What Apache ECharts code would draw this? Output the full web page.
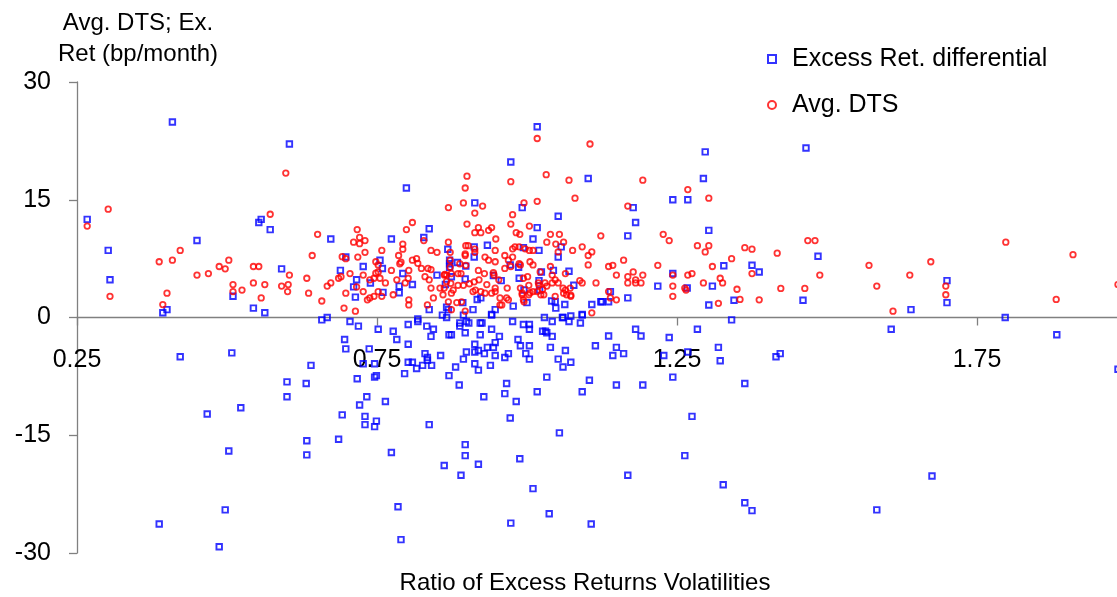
<!DOCTYPE html>
<html><head><meta charset="utf-8">
<script src="https://cdn.jsdelivr.net/npm/echarts@6/dist/echarts.min.js"></script>
<style>html,body{margin:0;padding:0;background:#fff}#c{width:1117px;height:597px}</style>
</head><body><div id="c"></div>
<script>
const xTicks = [0.25, 0.75, 1.25, 1.75];
const yTicks = [-30, -15, 0, 15, 30];
const seriesNames = ['Excess Ret. differential', 'Avg. DTS'];
const axisTitles = ['Ratio of Excess Returns Volatilities', 'Avg. DTS; Ex.\nRet (bp/month)'];

const excessRet = [
[0.267,12.5],[0.409,24.9],[0.604,22.1],[0.302,8.55],[0.305,4.8],[0.393,0.6],[0.4,1.0],[0.45,9.8],[0.51,2.7],[0.544,1.2],[0.563,0.6],[0.553,12.1],[0.557,12.5],[0.572,11.2],[0.591,6.2],[0.673,10.0],[0.698,7.7],[0.689,6.0],[0.716,4.8],[0.711,3.9],[0.714,2.6],[0.658,-0.3],[0.667,0.0],[0.705,-0.5],[0.719,-1.1],
[0.422,-5.0],[0.467,-12.3],[0.508,-4.5],[0.523,-11.5],[0.503,-17.0],[0.497,-24.5],[0.487,-29.2],[0.387,-26.3],[0.6,-8.2],[0.6,-10.1],[0.632,-8.4],[0.64,-6.1],[0.633,-15.7],[0.633,-17.5],
[0.799,16.5],[0.774,10.0],[0.837,11.3],[0.828,10.2],[0.727,6.5],[0.755,7.3],[0.759,6.25],[0.739,4.4],[0.76,3.2],[0.793,5.6],[0.787,4.0],[0.787,3.15],[0.809,4.2],[0.85,5.4],[0.837,1.0],[0.864,4.2],[0.868,8.7],[0.818,-0.2],[0.859,0.3],[0.866,0.0],[0.869,1.0],
[1.017,24.3],[0.973,19.8],[1.102,17.7],[0.913,14.6],[0.992,14.0],[1.052,12.9],[1.017,11.45],[1.01,10.0],[0.934,9.2],[0.912,9.0],[0.912,7.7],[0.994,8.9],[1.02,8.55],[1.057,9.0],[1.052,7.7],[0.871,7.3],[0.871,6.85],[0.871,6.4],[0.884,7.0],[0.898,6.55],[0.874,5.2],[0.897,4.9],[0.944,5.35],[0.972,6.7],[0.986,6.4],[0.987,5.0],[1.024,5.8],[1.02,4.7],[1.044,6.0],[1.07,5.9],[0.957,4.7],[0.995,3.5],[1.021,3.5],[1.078,4.1],[0.917,2.3],[0.923,2.5],[0.893,1.9],[0.91,1.0],[0.947,1.0],[0.941,0.4],[0.977,1.45],[1.0,1.9],[1.041,2.1],[1.047,2.0],[1.048,1.2],[1.063,1.65],[1.108,1.65],[1.123,2.0],[1.092,0.4],[1.073,0.2],[1.029,0.0],[1.059,0.0],[0.866,1.3],
[1.297,21.1],[1.294,17.7],[1.243,15.0],[1.268,15.0],[1.177,14.0],[1.181,12.1],[1.168,10.4],[1.303,11.1],[1.375,6.65],[1.387,5.8],[1.243,5.6],[1.218,4.0],[1.267,3.75],[1.309,4.0],[1.139,3.3],[1.136,2.0],[1.125,2.0],[1.168,2.5],[1.303,1.6],[1.341,-0.3],
[1.415,-5.0],[1.422,-4.6],[1.465,21.6],[1.46,2.2],[1.485,7.8],[1.363,-8.4],[1.327,-21.3],[1.363,-23.6],[1.375,-24.6],[1.607,-1.5],[1.64,1.0],[1.7,4.7],[1.7,1.9],[1.583,-24.5],[1.675,-20.2],[1.797,0.0],[1.883,-2.2],[1.985,-6.6],[1.345,2.2],[1.328,6.6],
[0.752,-1.5],[0.777,-1.75],[0.802,-0.9],[0.818,-0.5],[0.833,-1.1],[0.844,-1.5],[0.84,-2.4],[0.87,-2.2],[0.696,-2.8],[0.783,-2.8],[0.802,-3.4],[0.698,-4.0],[0.737,-4.0],[0.727,-5.9],[0.746,-5.9],[0.83,-4.6],[0.834,-5.1],[0.834,-5.45],[0.856,-4.85],[0.802,-5.7],[0.809,-5.7],[0.816,-6.5],[0.826,-6.1],[0.841,-6.1],[0.796,-7.15],[0.87,-7.4],[0.717,-7.8],[0.746,-7.6],[0.749,-7.4],[0.733,-10.1],[0.721,-11.15],[0.764,-10.7],[0.692,-12.4],[0.73,-12.6],[0.73,-13.65],[0.746,-13.9],[0.749,-13.2],[0.837,-13.65],[0.686,-15.5],[0.774,-17.2],[0.862,-18.85],[0.785,-24.1],[0.79,-28.3],
[0.894,0.3],[0.941,0.3],[0.888,-0.7],[0.888,-1.1],[0.899,-0.5],[0.903,-0.7],[0.922,-0.7],[0.925,-0.7],[0.976,-0.5],[0.994,-0.9],[1.004,-0.9],[1.004,-1.5],[1.042,-0.5],[1.06,0.0],[1.07,-0.5],[1.089,-0.7],[1.092,0.3],[0.874,-2.2],[0.897,-1.95],[0.922,-2.2],[0.941,-1.5],[0.954,-2.4],[0.985,-2.8],[0.989,-3.6],[1.004,-3.6],[1.026,-1.75],[1.031,-1.75],[1.033,-1.95],[1.042,-2.4],[0.913,-3.4],[0.947,-3.2],[0.934,-3.8],[0.944,-3.8],[0.899,-4.4],[0.913,-4.4],[0.919,-4.2],[0.929,-4.6],[0.947,-4.85],[0.963,-5.1],[0.969,-4.6],[0.998,-4.6],[1.004,-5.3],[1.039,-3.8],[1.064,-4.2],[1.052,-5.3],[1.073,-5.7],[1.06,-6.3],[1.114,-3.6],[0.894,-5.3],[0.881,-6.3],[0.913,-5.9],[0.919,-6.7],[0.939,-6.1],[0.887,-8.6],[1.033,-7.6],[1.104,-8.0],[0.966,-8.4],[0.963,-9.7],[0.928,-10.1],[0.982,-10.7],[1.017,-9.45],[1.092,-9.45],[0.972,-12.8],[1.054,-14.7],[0.897,-16.2],[0.897,-17.6],[0.919,-18.7],[0.988,-18.0],[0.89,-20.1],[1.01,-21.8],[0.973,-26.2],[1.037,-25.0],[1.107,-26.3],
[1.136,-2.35],[1.181,-1.5],[1.19,-2.35],[1.149,-3.8],[1.143,-4.85],[1.161,-4.6],[1.237,-2.55],[1.284,-1.5],[1.228,-4.85],[1.268,-4.4],[1.319,-3.8],[1.322,-5.5],[1.243,-7.6],[1.149,-8.6],[1.193,-8.6],[1.275,-12.6],[1.263,-17.6],[1.168,-20.1]
];

const avgDTS = [
[0.267,11.65],[0.302,13.8],[0.305,2.7],[0.387,7.1],[0.409,7.3],[0.422,8.55],[0.4,3.1],[0.393,1.65],[0.45,5.4],[0.469,5.6],[0.487,6.5],[0.497,6.2],[0.503,7.3],[0.51,4.2],[0.51,3.3],[0.525,3.5],[0.544,6.5],[0.553,6.5],[0.544,4.4],[0.563,4.2],[0.557,2.5],[0.572,13.15],[0.598,18.4],[0.591,4.0],[0.602,4.2],[0.601,3.3],[0.604,5.4],[0.633,5.0],[0.636,3.1],[0.642,7.9],[0.651,10.6],[0.658,2.1],[0.667,4.0],[0.673,4.4],[0.686,5.0],[0.69,5.2],[0.692,7.75],[0.698,7.5],[0.705,5.6],[0.698,3.1],[0.695,1.2],[0.714,0.8],[0.711,9.6],[0.717,11.2],[0.721,10.2],[0.718,7.7],[0.716,3.9],
[0.721,9.4],[0.73,9.8],[0.73,8.3],[0.727,5.4],[0.727,3.3],[0.734,2.25],[0.738,2.5],[0.745,2.7],[0.752,3.3],[0.758,2.7],[0.738,4.8],[0.745,5.0],[0.748,5.65],[0.752,5.8],[0.755,5.0],[0.748,7.1],[0.752,6.7],[0.758,8.55],[0.774,6.0],[0.764,4.4],[0.777,2.9],[0.783,4.8],[0.797,4.4],[0.786,7.9],[0.79,7.05],[0.788,6.85],[0.793,9.35],[0.793,8.7],[0.799,11.2],[0.809,12.1],[0.803,2.25],[0.803,1.6],[0.802,5.0],[0.803,6.0],[0.809,7.3],[0.816,7.5],[0.818,6.9],[0.824,6.25],[0.828,9.8],[0.83,5.2],[0.837,4.8],[0.835,6.25],[0.84,6.1],[0.84,8.55],[0.85,8.3],[0.834,1.6],[0.844,2.5],[0.84,3.75],[0.855,3.75],[0.862,3.75],[0.86,2.9],[0.862,5.4],[0.866,5.4],[0.869,14.0],[0.869,9.6],[0.869,2.0],
[1.017,22.8],[1.105,22.1],[0.9,18.0],[0.897,16.5],[0.973,17.3],[1.032,18.2],[1.07,17.5],[1.08,15.2],[0.894,14.6],[0.926,14.2],[0.913,13.3],[0.995,14.6],[1.017,14.8],[0.976,13.1],[0.9,11.9],[0.919,11.45],[0.913,10.8],[0.923,10.8],[0.936,11.1],[0.941,11.45],[0.973,11.9],[0.982,10.8],[0.988,10.6],[1.004,11.65],[0.948,10.0],[1.039,10.6],[1.054,10.6],[1.033,9.6],[1.048,9.35],[1.061,9.6],[1.123,10.4],[0.898,9.15],[0.902,9.15],[0.913,8.7],[0.913,8.3],[0.872,8.3],[0.947,8.55],[0.976,8.75],[0.98,9.0],[0.987,9.0],[0.997,8.75],[1.004,8.55],[1.01,8.55],[1.052,8.35],[1.076,8.55],[1.092,9.0],[1.108,8.35],[1.102,7.9],[1.102,6.7],[0.897,8.1],[0.897,7.9],[0.872,7.3],[0.872,6.4],[0.888,6.85],[0.898,6.65],[0.93,7.7],[0.936,7.3],[0.947,7.1],[0.963,7.9],[0.969,7.3],[0.976,7.7],[0.973,6.5],[0.963,6.25],[0.989,6.7],[0.987,6.85],[1.005,7.1],[1.01,6.7],[1.039,6.5],[0.863,5.5],[0.874,5.6],[0.885,5.6],[0.89,5.6],[0.919,6.0],[0.929,5.6],[0.944,5.7],[0.945,5.4],[0.953,4.8],[0.994,5.0],[1.001,5.2],[1.022,5.8],[1.042,5.4],[1.047,4.8],[1.064,5.6],[0.866,4.6],[0.873,4.35],[0.885,4.1],[0.894,4.1],[0.904,4.3],[0.912,4.55],[0.92,4.8],[0.933,4.2],[0.947,3.75],[0.877,3.5],[0.91,3.3],[0.914,3.5],[0.923,3.3],[0.93,3.1],[0.941,3.1],[0.947,3.3],[0.967,3.75],[0.989,3.75],[0.992,3.1],[1.003,4.1],[1.005,3.15],[1.019,4.4],[1.02,4.1],[1.026,3.6],[1.03,4.4],[1.033,4.0],[1.042,4.4],[1.052,4.4],[1.06,3.75],[1.064,3.5],[1.072,3.75],[1.073,2.85],[1.092,4.4],[1.088,4.7],[1.115,4.4],[0.874,3.1],[0.874,1.0],[0.883,1.9],[0.891,2.0],[0.897,0.8],[0.955,2.5],[0.966,2.5],[0.969,2.25],[0.955,1.6],[0.958,1.6],[0.992,2.9],[0.994,2.25],[0.995,2.0],[1.003,2.9],[1.01,3.3],[1.017,3.3],[1.023,2.9],[1.028,2.9],[1.047,2.7],[1.061,3.1],[1.066,2.9],[1.073,2.7],[1.108,0.6],
[1.193,17.5],[1.268,16.3],[1.303,15.2],[1.168,14.2],[1.227,10.6],[1.237,9.8],[1.284,9.15],[1.303,9.15],[1.297,8.35],[1.363,8.9],[1.375,8.7],[1.341,7.5],[1.161,7.3],[1.136,6.5],[1.143,6.65],[1.218,6.65],[1.309,6.5],[1.149,5.4],[1.168,5.2],[1.177,5.8],[1.193,5.4],[1.243,5.4],[1.268,5.4],[1.275,5.6],[1.375,5.6],[1.322,5.0],[1.168,4.4],[1.181,4.8],[1.181,4.4],[1.19,4.4],[1.294,4.4],[1.326,4.4],[1.243,4.0],[1.263,3.75],[1.265,3.5],[1.136,3.3],[1.139,2.5],[1.149,2.25],[1.243,2.7],[1.319,1.8],[1.387,2.25],
[1.468,9.8],[1.48,9.8],[1.488,5.4],[1.463,3.7],[1.417,8.2],[1.57,6.65],[1.583,4.0],[1.61,0.8],[1.638,5.4],[1.673,7.1],[1.698,4.0],[1.698,2.9],[1.798,9.6],[1.882,2.3],[1.91,8.0],[1.985,4.2],[1.35,3.6],[1.355,2.3],[1.423,3.7]
];

const FONT = 'Arial, "Liberation Sans", sans-serif';
const chart = echarts.init(document.getElementById('c'), null, {renderer: 'canvas'});
chart.setOption({
  animation: false,
  backgroundColor: '#ffffff',
  textStyle: {fontFamily: FONT, color: '#000'},
  grid: {left: 77, right: -10, top: 82, bottom: 44, containLabel: false, outerBoundsMode: 'none'},
  legend: {
    orient: 'vertical', left: 762, top: 41,
    itemWidth: 8, itemHeight: 8, itemGap: 20,
    textStyle: {fontSize: 25, color: '#000', fontFamily: FONT, lineHeight: 26, padding: [0, 0, 0, 11]},
    data: seriesNames
  },
  xAxis: {
    type: 'value', min: xTicks[0], max: 2.0, interval: xTicks[1] - xTicks[0],
    offset: -235.5,
    axisLine: {onZero: false, lineStyle: {color: '#808080', width: 1.3}},
    axisTick: {show: true, length: 8, lineStyle: {color: '#808080', width: 1.3}},
    axisLabel: {margin: 30, fontSize: 25, color: '#000', fontFamily: FONT, showMaxLabel: false,
      formatter: v => xTicks.some(t => Math.abs(t - v) < 1e-6) ? v.toFixed(2) : ''},
    splitLine: {show: false},
    name: axisTitles[0], nameLocation: 'middle', nameGap: 254,
    nameTextStyle: {fontSize: 24, color: '#000', fontFamily: FONT, padding: [0, 34, 0, 0]}
  },
  yAxis: {
    type: 'value', min: yTicks[0], max: yTicks[yTicks.length - 1], interval: yTicks[1] - yTicks[0],
    axisLine: {show: true, lineStyle: {color: '#808080', width: 1.3}},
    axisTick: {show: true, length: 8, lineStyle: {color: '#808080', width: 1.3}},
    axisLabel: {margin: 26, fontSize: 25, color: '#000', fontFamily: FONT},
    splitLine: {show: false},
    name: axisTitles[1], nameLocation: 'end', nameGap: 12,
    nameTextStyle: {fontSize: 24, lineHeight: 31, color: '#000', fontFamily: FONT, align: 'center', padding: [0, 0, 0, 122]}
  },
  series: [
    {name: seriesNames[0], type: 'scatter', data: excessRet, symbol: 'rect', symbolSize: 5.5,
     itemStyle: {color: 'rgba(255,255,255,0)', borderColor: '#0000ff', borderWidth: 1.9},
     emphasis: {disabled: true}},
    {name: seriesNames[1], type: 'scatter', data: avgDTS, symbol: 'circle', symbolSize: 5.5,
     itemStyle: {color: 'rgba(255,255,255,0)', borderColor: '#ff0000', borderWidth: 1.8},
     emphasis: {disabled: true}}
  ]
});
</script></body></html>
